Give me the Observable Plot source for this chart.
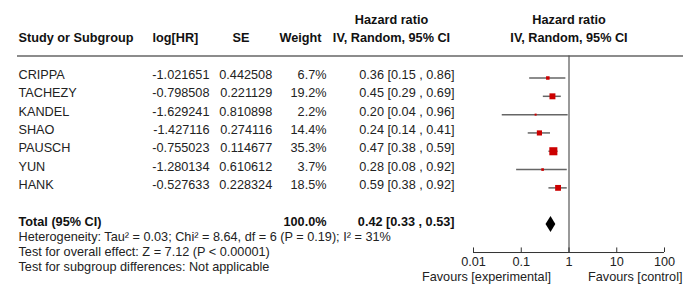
<!DOCTYPE html>
<html><head><meta charset="utf-8">
<script src="https://cdn.jsdelivr.net/npm/d3@7"></script>
<script src="https://cdn.jsdelivr.net/npm/@observablehq/plot@0.6"></script>
<style>body{margin:0;background:#fff}</style>
</head><body><div id="chart"></div>
<script>
// ---- data ----
const studies = ["CRIPPA","TACHEZY","KANDEL","SHAO","PAUSCH","YUN","HANK"];
const logHR   = [-1.021651,-0.798508,-1.629241,-1.427116,-0.755023,-1.280134,-0.527633];
const seHR    = [0.442508,0.221129,0.810898,0.274116,0.114677,0.610612,0.228324];
const weights = [6.7,19.2,2.2,14.4,35.3,3.7,18.5];
const hr      = [0.36,0.45,0.20,0.24,0.47,0.28,0.59];
const ciLow   = [0.15,0.29,0.04,0.14,0.38,0.08,0.38];
const ciHigh  = [0.86,0.69,0.96,0.41,0.59,0.92,0.92];
const totalLabel = "Total (95% CI)";
const totalWeight = 100.0;
const totalHR = 0.42, totalLow = 0.33, totalHigh = 0.53;
const colHeaders = ["Study or Subgroup","log[HR]","SE","Weight"];
const effHeader = ["Hazard ratio","IV, Random, 95% CI"];
const footnotes = [
  "Heterogeneity: Tau\u00B2 = 0.03; Chi\u00B2 = 8.64, df = 6 (P = 0.19); I\u00B2 = 31%",
  "Test for overall effect: Z = 7.12 (P < 0.00001)",
  "Test for subgroup differences: Not applicable"
];
const tickValues = [0.01,0.1,1,10,100];
const tickLabels = ["0.01","0.1","1","10","100"];
const favourLabels = ["Favours [experimental]","Favours [control]"];

// ---- layout ----
const FONT = "'Liberation Sans', Arial, sans-serif";
const TXT = "#222";
const totalRow = 9, axisRow = 10.53, ruleRow = -0.2;
const hdrRows = [-2.19, -1.19];
const footRows = [9.69, 10.51, 11.33];
const tickRow = 11.02, favRow = 11.84;

const fmtCI = (e,l,h) => `${e.toFixed(2)} [${l.toFixed(2)} , ${h.toFixed(2)}]`;
const rows = studies.map((s,i) => ({
  study: s, row: i+1,
  lhr: logHR[i].toFixed(6), se: seHR[i].toFixed(6),
  w: weights[i], wtxt: weights[i].toFixed(1) + "%",
  hr: hr[i], lo: ciLow[i], hi: ciHigh[i],
  ci: fmtCI(hr[i], ciLow[i], ciHigh[i])
}));
const diamondH = 0.44;
const diamond = [
  {x: totalLow, y1: totalRow, y2: totalRow},
  {x: totalHR, y1: totalRow - diamondH, y2: totalRow + diamondH},
  {x: totalHigh, y1: totalRow, y2: totalRow}
];

const txt = (data, o) => Plot.text(data, {frameAnchor: "left", lineAnchor: "middle", fill: TXT, ...o});
const B = {fontWeight: "bold", fill: "#111"};

const chart = Plot.plot({
  width: 685, height: 284,
  marginTop: 0, marginBottom: 0, marginLeft: 0, marginRight: 0,
  style: {fontFamily: FONT, fontSize: "12.7px", background: "#fff", color: TXT},
  x: {type: "log", domain: [0.01, 100], range: [473, 664], axis: null},
  y: {type: "linear", domain: [1, 9], range: [77.5, 224], axis: null},
  r: {type: "sqrt", domain: [0, d3.max(weights)], range: [0, 4.55]},
  marks: [
    // header rule
    Plot.ruleY([ruleRow], {y: d => d, stroke: "#8c8c8c", strokeWidth: 2, insetLeft: 17, insetRight: 2}),
    // column headers
    txt([colHeaders[0]], {y: () => hdrRows[1], dx: 18, textAnchor: "start", text: d => d, ...B}),
    txt([colHeaders[1]], {y: () => hdrRows[1], dx: 152, textAnchor: "start", text: d => d, ...B}),
    txt([colHeaders[2]], {y: () => hdrRows[1], dx: 232, textAnchor: "start", text: d => d, ...B}),
    txt([colHeaders[3]], {y: () => hdrRows[1], dx: 321, textAnchor: "end", text: d => d, ...B}),
    txt(effHeader, {y: (d,i) => hdrRows[i], dx: 391, textAnchor: "middle", text: d => d, ...B}),
    Plot.text(effHeader, {x: () => 1, y: (d,i) => hdrRows[i], textAnchor: "middle", lineAnchor: "middle", text: d => d, ...B}),
    // study rows
    txt(rows, {y: "row", dy: -3, dx: 18, textAnchor: "start", text: "study"}),
    txt(rows, {y: "row", dy: -3, dx: 209, textAnchor: "end", text: "lhr"}),
    txt(rows, {y: "row", dy: -3, dx: 271.7, textAnchor: "end", text: "se"}),
    txt(rows, {y: "row", dy: -3, dx: 326, textAnchor: "end", text: "wtxt"}),
    txt(rows, {y: "row", dy: -3, dx: 454, textAnchor: "end", text: "ci"}),
    // total row
    txt([totalLabel], {y: () => totalRow, dy: -3, dx: 18, textAnchor: "start", text: d => d, ...B}),
    txt([totalWeight], {y: () => totalRow, dy: -3, dx: 326, textAnchor: "end", text: d => d.toFixed(1) + "%", ...B}),
    txt([totalHR], {y: () => totalRow, dy: -3, dx: 454, textAnchor: "end", text: () => fmtCI(totalHR, totalLow, totalHigh), ...B}),
    // footnotes
    txt(footnotes, {y: (d,i) => footRows[i], dx: 18, textAnchor: "start", text: d => d}),
    // line of no effect
    Plot.ruleX([1], {x: d => d, y1: ruleRow, y2: axisRow, stroke: "#555", strokeWidth: 1.2}),
    // CIs and squares
    Plot.ruleY(rows, {y: "row", x1: "lo", x2: "hi", stroke: "#666", strokeWidth: 1.5}),
    Plot.dot(rows, {x: "hr", y: "row", r: "w", symbol: "square", fill: "#cc0000"}),
    // diamond
    Plot.areaY(diamond, {x: "x", y1: "y1", y2: "y2", fill: "#000"}),
    // axis
    Plot.ruleY([axisRow], {y: d => d, x1: tickValues[0], x2: tickValues[tickValues.length-1], stroke: "#333", strokeWidth: 1}),
    Plot.ruleX(tickValues, {x: d => d, y1: axisRow - 0.25, y2: axisRow, stroke: "#333", strokeWidth: 1}),
    Plot.text(tickValues, {x: d => d, y: () => tickRow, text: (d,i) => tickLabels[i], textAnchor: "middle", lineAnchor: "middle", fill: TXT}),
    Plot.text([favourLabels[0]], {x: () => 1, y: () => favRow, text: d => d, lineAnchor: "middle", fill: TXT, textAnchor: "end", dx: -18}),
    Plot.text([favourLabels[1]], {x: () => 1, y: () => favRow, text: d => d, lineAnchor: "middle", fill: TXT, textAnchor: "start", dx: 19})
  ]
});
document.getElementById("chart").append(chart);
</script>
</body></html>
